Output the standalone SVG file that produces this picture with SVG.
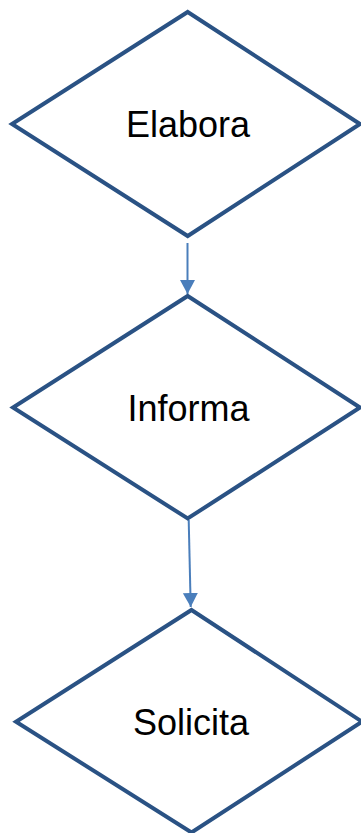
<svg xmlns="http://www.w3.org/2000/svg" width="361" height="833" viewBox="0 0 361 833">
<style>
.d{fill:#fff;stroke:#2a5284;stroke-width:4;stroke-linejoin:miter}
.t{font-family:"Liberation Sans",Arial,sans-serif;font-size:36px;fill:#000;text-anchor:middle}
.c{stroke:#4a7ebb;stroke-width:2;fill:none}
</style>
<defs>
<marker id="ah" markerUnits="userSpaceOnUse" markerWidth="16" markerHeight="16" viewBox="0 0 16 16" refX="14" refY="8" orient="auto">
<path d="M0,0.5 L14,8 L0,15.5 Z" fill="#4a7ebb"/>
</marker>
</defs>
<rect width="361" height="833" fill="#fff"/>
<g id="connectors">
<line class="c" x1="187.5" y1="243" x2="187.5" y2="294" marker-end="url(#ah)"/>
<line class="c" x1="188.7" y1="520" x2="190.7" y2="607" marker-end="url(#ah)"/>
</g>
<g id="elabora">
<polygon class="d" points="187.7,12 360,124 187.7,236 12,124"/>
<text class="t" x="188" y="137">Elabora</text>
</g>
<g id="informa">
<polygon class="d" points="187.7,296 360,407.5 187.7,518.5 13,407.5"/>
<text class="t" x="188.5" y="420.5">Informa</text>
</g>
<g id="solicita">
<polygon class="d" points="191.5,610 362,721.7 191.5,832.5 16,721.7"/>
<text class="t" x="191" y="735">Solicita</text>
</g>
</svg>
